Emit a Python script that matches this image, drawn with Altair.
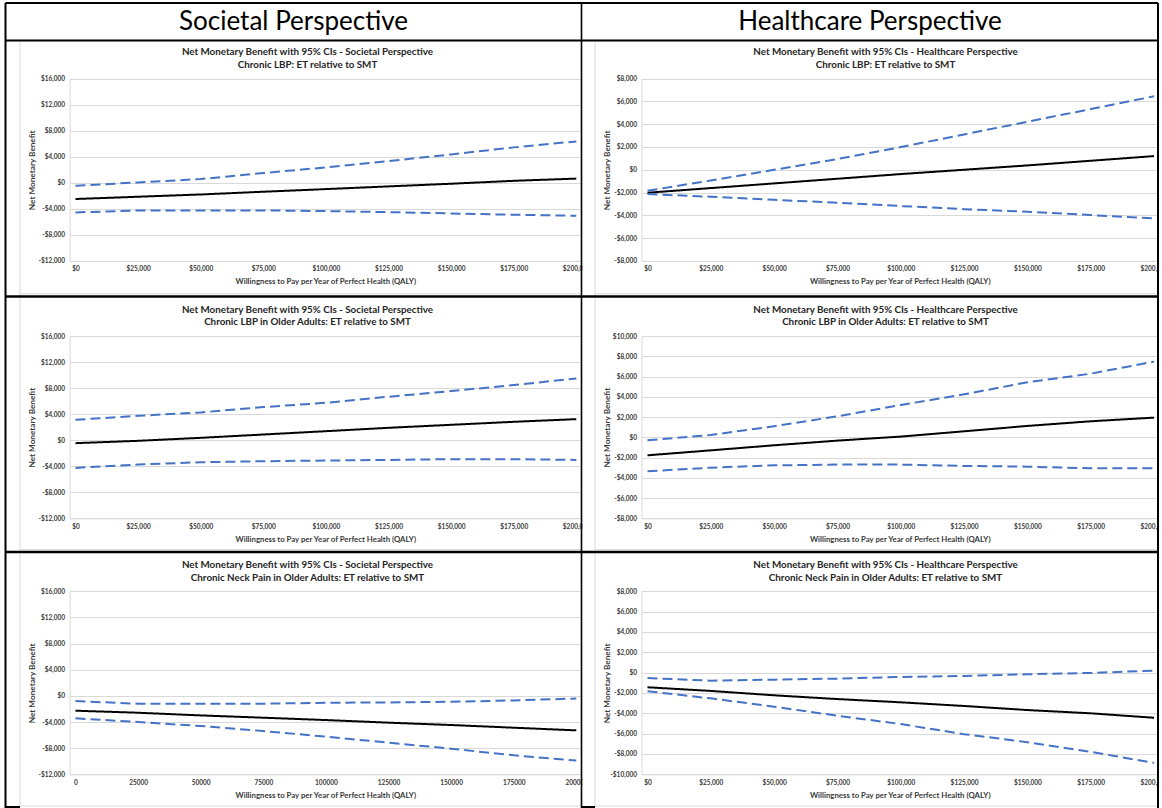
import altair as alt
import pandas as pd

W, H = 1162, 808
FONT = "Lato"
LABEL_C = "#3a3a3a"
GRID_C = "#d9d9d9"
BLUE = "#4472C4"

HEADERS = ["Societal Perspective", "Healthcare Perspective"]
TITLE_MAIN = ["Net Monetary Benefit with 95% CIs - Societal Perspective",
              "Net Monetary Benefit with 95% CIs - Healthcare Perspective"]
SUBTITLES = ["Chronic LBP: ET relative to SMT",
             "Chronic LBP in Older Adults: ET relative to SMT",
             "Chronic Neck Pain in Older Adults: ET relative to SMT"]
X_TITLE = "Willingness to Pay per Year of Perfect Health (QALY)"
Y_TITLE = "Net Monetary Benefit"
SERIES = ["Mean NMB", "Lower 95% CI", "Upper 95% CI"]

WTP = [0, 25000, 50000, 75000, 100000, 125000, 150000, 175000, 200000]

# Societal perspective - Chronic LBP
soc_lbp_mean = [-2500, -2150, -1800, -1380, -975, -560, -150, 300, 640]
soc_lbp_lower = [-4560, -4260, -4250, -4250, -4360, -4510, -4720, -4920, -5080]
soc_lbp_upper = [-460, 50, 570, 1490, 2360, 3330, 4360, 5440, 6360]
# Healthcare perspective - Chronic LBP
hc_lbp_mean = [-2020, -1610, -1200, -790, -380, 0, 380, 790, 1200]
hc_lbp_lower = [-2140, -2370, -2640, -2900, -3190, -3460, -3690, -3980, -4280]
hc_lbp_upper = [-1850, -940, 0, 940, 1990, 3100, 4220, 5330, 6450]
# Societal perspective - Chronic LBP in older adults
soc_old_mean = [-460, -100, 360, 870, 1380, 1900, 2360, 2820, 3230]
soc_old_lower = [-4260, -3740, -3390, -3230, -3130, -3030, -2920, -2920, -3030]
soc_old_upper = [3130, 3740, 4260, 5080, 5740, 6670, 7540, 8460, 9490]
# Healthcare perspective - Chronic LBP in older adults
hc_old_mean = [-1780, -1290, -790, -330, 70, 590, 1120, 1580, 1940]
hc_old_lower = [-3360, -3000, -2770, -2700, -2700, -2830, -2900, -3060, -3060]
hc_old_upper = [-300, 230, 1090, 2070, 3190, 4240, 5430, 6280, 7470]
# Societal perspective - Chronic neck pain in older adults
soc_neck_mean = [-2270, -2580, -2990, -3340, -3700, -4100, -4460, -4870, -5280]
soc_neck_lower = [-3440, -4000, -4610, -5380, -6240, -7160, -8080, -9100, -9900]
soc_neck_upper = [-800, -1200, -1200, -1200, -1050, -1000, -900, -700, -400]
# Healthcare perspective - Chronic neck pain in older adults
hc_neck_mean = [-1440, -1800, -2230, -2600, -2920, -3280, -3680, -4000, -4440]
hc_neck_lower = [-1830, -2530, -3350, -4240, -5060, -6050, -6840, -7790, -8880]
hc_neck_upper = [-530, -790, -690, -590, -430, -330, -160, -30, 200]

Y_TICKS_SOC = [-12000, -8000, -4000, 0, 4000, 8000, 12000, 16000]
Y_TICKS_HC1 = [-8000, -6000, -4000, -2000, 0, 2000, 4000, 6000, 8000]
Y_TICKS_HC2 = [-8000, -6000, -4000, -2000, 0, 2000, 4000, 6000, 8000, 10000]
Y_TICKS_HC3 = [-10000, -8000, -6000, -4000, -2000, 0, 2000, 4000, 6000, 8000]

DOLLAR = "datum.value < 0 ? '-$' + format(-datum.value, ',') : '$' + format(datum.value, ',')"
PLAIN = "format(datum.value, 'd')"

# layout of the table (pixels)
COLS = [
    dict(axis=69.6, x0=75.5, x200=576.3, right=581.0, ytitle=32.6, center=307.5,
         cell_center=293.5, frame=20.0),
    dict(axis=641.5, x0=647.5, x200=1154.0, right=1158.0, ytitle=607.0, center=885.5,
         cell_center=870.0, frame=595.0),
]
ROWS = [
    dict(top=78.7, bottom=260.8, t1=51.7, t2=64.8, frame_bottom=293.8),
    dict(top=336.0, bottom=518.3, t1=310.0, t2=322.3, frame_bottom=549.5),
    dict(top=591.3, bottom=774.3, t1=565.0, t2=577.7, frame_bottom=806.0),
]

PANELS = [
    (0, 0, soc_lbp_mean, soc_lbp_lower, soc_lbp_upper, Y_TICKS_SOC, DOLLAR),
    (1, 0, hc_lbp_mean, hc_lbp_lower, hc_lbp_upper, Y_TICKS_HC1, DOLLAR),
    (0, 1, soc_old_mean, soc_old_lower, soc_old_upper, Y_TICKS_SOC, DOLLAR),
    (1, 1, hc_old_mean, hc_old_lower, hc_old_upper, Y_TICKS_HC2, DOLLAR),
    (0, 2, soc_neck_mean, soc_neck_lower, soc_neck_upper, Y_TICKS_SOC, PLAIN),
    (1, 2, hc_neck_mean, hc_neck_lower, hc_neck_upper, Y_TICKS_HC3, DOLLAR),
]

LAB = dict(labelFont=FONT, labelFontWeight="bold", labelFontSize=6.5, labelColor=LABEL_C,
           labelOverlap=False, labelFlush=False)


def tit(size):
    return dict(titleFont=FONT, titleFontWeight="bold", titleFontSize=size, titleColor=LABEL_C,
                titleAlign="center", titleBaseline="middle")


def panel(col, row, mean, lower, upper, yticks, xfmt):
    c, r = COLS[col], ROWS[row]
    k = (c["x200"] - c["x0"]) / 200000.0
    xdom = [(c["axis"] - c["x0"]) / k, (c["right"] - c["x0"]) / k]
    n = len(WTP)
    df = pd.DataFrame({
        "wtp": WTP * 3,
        "nmb": mean + lower + upper,
        "series": [SERIES[0]] * n + [SERIES[1]] * n + [SERIES[2]] * n,
    })
    return alt.Chart(df).mark_line(strokeWidth=2).encode(
        x=alt.X("wtp:Q",
                scale=alt.Scale(domain=xdom, range=[c["axis"], c["right"]], nice=False, zero=False),
                axis=alt.Axis(orient="bottom", offset=r["bottom"] - H, values=WTP, labelExpr=xfmt,
                              grid=False, ticks=False, domain=True, domainColor=GRID_C,
                              labelPadding=5, title=X_TITLE,
                              titleX=(c["axis"] + c["right"]) / 2, titleY=20.9,
                              **LAB, **tit(7.8))),
        y=alt.Y("nmb:Q",
                scale=alt.Scale(domain=[yticks[0], yticks[-1]], range=[r["bottom"], r["top"]],
                                nice=False, zero=False),
                axis=alt.Axis(orient="left", offset=-c["axis"], values=yticks, labelExpr=DOLLAR,
                              grid=True, gridColor=GRID_C, gridWidth=1, ticks=False, domain=True,
                              domainColor=GRID_C, labelPadding=5, title=Y_TITLE,
                              titleX=c["ytitle"] - c["axis"], titleY=(r["top"] + r["bottom"]) / 2,
                              titleAngle=270, **LAB, **tit(8.2))),
        color=alt.Color("series:N", scale=alt.Scale(domain=SERIES, range=["#000000", BLUE, BLUE]),
                        legend=None),
        strokeDash=alt.StrokeDash("series:N",
                                  scale=alt.Scale(domain=SERIES, range=[[1, 0], [10, 5], [10, 5]]),
                                  legend=None),
    )


ONE = alt.Data(values=[{"k": 1}])


def hrule(x1, x2, y, color, width):
    return alt.Chart(ONE).mark_rule(color=color, strokeWidth=width).encode(
        x=alt.value(x1), x2=alt.value(x2), y=alt.value(y))


def vrule(x, y1, y2, color, width):
    return alt.Chart(ONE).mark_rule(color=color, strokeWidth=width).encode(
        x=alt.value(x), y=alt.value(y1), y2=alt.value(y2))


def label(text, x, y, size, weight="normal", color="#000000", baseline="middle"):
    return alt.Chart(pd.DataFrame({"t": [text]})).mark_text(
        font=FONT, fontSize=size, fontWeight=weight, color=color, align="center",
        baseline=baseline).encode(text="t:N", x=alt.value(x), y=alt.value(y))


layers = [panel(*p) for p in PANELS]

# white masks where the spreadsheet cells clip the charts
layers.append(alt.Chart(ONE).mark_rect(color="white").encode(
    x=alt.value(582.5), x2=alt.value(594.5), y=alt.value(41.5), y2=alt.value(806)))
layers.append(alt.Chart(ONE).mark_rect(color="white").encode(
    x=alt.value(1159), x2=alt.value(1162), y=alt.value(0), y2=alt.value(808)))

# light grey chart-area frames
for c in COLS:
    layers.append(vrule(c["frame"], 41.5, 806, GRID_C, 1))
    for r in ROWS:
        layers.append(hrule(c["frame"], c["right"], r["frame_bottom"], GRID_C, 1))

# black table borders
layers += [
    hrule(5.5, 1158, 3, "#000000", 2),
    hrule(5.5, 1158, 40.5, "#000000", 2),
    hrule(5.5, 1158, 296.5, "#000000", 2.5),
    hrule(5.5, 1158, 552, "#000000", 2.5),
    hrule(5.5, 20, 807, "#000000", 2),
    hrule(581.5, 595, 807, "#000000", 2),
    vrule(5.5, 3, 808, "#000000", 2),
    vrule(581.5, 3, 808, "#000000", 1.6),
    vrule(1158, 3, 808, "#000000", 2),
]

# header texts
for i, c in enumerate(COLS):
    layers.append(label(HEADERS[i], c["cell_center"], 30, 26, baseline="alphabetic"))

# chart titles
for (col, row, *_rest) in PANELS:
    c, r = COLS[col], ROWS[row]
    layers.append(label(TITLE_MAIN[col], c["center"], r["t1"], 9.8, "bold", "#262626"))
    layers.append(label(SUBTITLES[row], c["center"], r["t2"], 9.8, "bold", "#262626"))

chart = alt.layer(*layers).resolve_scale(
    x="independent", y="independent"
).properties(
    width=W, height=H, padding=0, background="white",
    autosize=alt.AutoSizeParams(type="none"),
).configure_view(strokeWidth=0)

chart.save("out.html", embed_options={"renderer": "svg", "actions": False})
